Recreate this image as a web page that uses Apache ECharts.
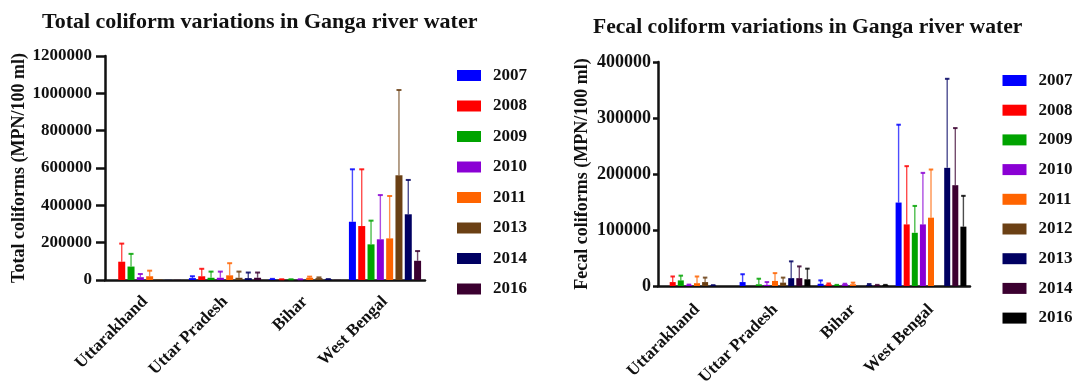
<!DOCTYPE html>
<html><head><meta charset="utf-8">
<script src="https://cdn.jsdelivr.net/npm/echarts@6/dist/echarts.min.js"></script>
<style>
html,body{margin:0;padding:0;background:#fff;}
#c1{position:absolute;left:0;top:0;width:540px;height:388px;}
#c2{position:absolute;left:540px;top:0;width:533px;height:388px;}
</style>
</head><body><div id="c1"></div><div id="c2"></div>
<script>
// ---------- DATA ----------
const categories = ['Uttarakhand', 'Uttar Pradesh', 'Bihar', 'West Bengal'];

// Total coliform (mean and upper SD), MPN/100 ml
const totalYears = ['2007', '2008', '2009', '2010', '2011', '2013', '2014', '2016'];
const tc2007 = [0, 10000, 4000, 312000];
const tc2007Sd = [0, 10000, 2000, 281000];
const tc2008 = [98000, 20000, 3000, 289000];
const tc2008Sd = [97000, 40000, 1000, 304000];
const tc2009 = [72000, 12000, 3000, 191000];
const tc2009Sd = [68000, 33000, 1000, 127000];
const tc2010 = [15000, 12000, 3000, 218000];
const tc2010Sd = [17000, 33000, 1000, 237000];
const tc2011 = [20000, 25000, 12000, 223000];
const tc2011Sd = [30000, 65000, 6000, 227000];
const tc2013 = [3000, 12000, 10000, 561000];
const tc2013Sd = [0, 33000, 4000, 457000];
const tc2014 = [1000, 10000, 4000, 352000];
const tc2014Sd = [0, 30000, 1000, 184000];
const tc2016 = [1000, 12000, 1000, 103000];
const tc2016Sd = [0, 28000, 0, 52000];
const totalTicks = [0, 200000, 400000, 600000, 800000, 1000000, 1200000];

// Fecal coliform (mean and upper SD), MPN/100 ml
const fecalYears = ['2007', '2008', '2009', '2010', '2011', '2012', '2013', '2014', '2016'];
const fc2007 = [0, 7000, 4000, 149000];
const fc2007Sd = [0, 14000, 6000, 139000];
const fc2008 = [7000, 0, 3000, 110000];
const fc2008Sd = [10000, 0, 1500, 104000];
const fc2009 = [10000, 3000, 1500, 95000];
const fc2009Sd = [8500, 10000, 500, 48000];
const fc2010 = [2000, 2000, 3000, 110000];
const fc2010Sd = [500, 5000, 1000, 92000];
const fc2011 = [5000, 9000, 3000, 122000];
const fc2011Sd = [12000, 14000, 3000, 86000];
const fc2012 = [7000, 6000, 0, 0];
const fc2012Sd = [8000, 9000, 0, 0];
const fc2013 = [1000, 14000, 2000, 211000];
const fc2013Sd = [500, 30000, 1500, 159000];
const fc2014 = [0, 14000, 1500, 180000];
const fc2014Sd = [0, 21000, 500, 102000];
const fc2016 = [0, 12000, 1500, 106000];
const fc2016Sd = [0, 19000, 500, 55000];
const fecalTicks = [0, 100000, 200000, 300000, 400000];

// ---------- STYLE ----------
const totalColors = ['#0000FF', '#FF0000', '#00A300', '#8A00D4', '#FF6400', '#6B4014', '#000062', '#3B0030'];
const fecalColors = ['#0000FF', '#FF0000', '#00A300', '#8A00D4', '#FF6400', '#6B4014', '#000062', '#3B0030', '#000000'];
const FONT = 'Liberation Serif';
const INK = '#111';

function errSeries(name, means, sds, idx, n, w, gapRatio, color, capW) {
  const g = w * gapRatio;
  const total = n * w + (n - 1) * g;
  const off = -total / 2 + idx * (w + g) + w / 2;
  return {
    type: 'custom', name: name + '_err', silent: true, z: 3,
    data: means.map((m, i) => [i, m, m + sds[i]]),
    encode: { x: 0, y: [1, 2] },
    renderItem: function (params, api) {
      const ci = api.value(0), m = api.value(1), t = api.value(2);
      if (!(t > m)) return;
      const p0 = api.coord([ci, m]);
      const p1 = api.coord([ci, t]);
      const x = p0[0] + off;
      return {
        type: 'group', children: [
          { type: 'line', shape: { x1: x, y1: p0[1], x2: x, y2: p1[1] }, style: { stroke: color, lineWidth: 1.4, opacity: 0.7 } },
          { type: 'line', shape: { x1: x - capW / 2, y1: p1[1], x2: x + capW / 2, y2: p1[1] }, style: { stroke: color, lineWidth: 2, opacity: 0.85 } }
        ]
      };
    }
  };
}

function buildOption(cfg) {
  const n = cfg.years.length;
  const series = [];
  cfg.years.forEach((y, i) => {
    series.push({
      type: 'bar', name: y, data: cfg.means[i], barWidth: cfg.w, barGap: cfg.gap,
      itemStyle: { color: cfg.colors[i] }, z: 2
    });
  });
  cfg.years.forEach((y, i) => {
    series.push(errSeries(y, cfg.means[i], cfg.sds[i], i, n, cfg.w, parseFloat(cfg.gap) / 100, cfg.colors[i], cfg.capW));
  });
  const maxV = cfg.ticks[cfg.ticks.length - 1];
  return {
    animation: false,
    title: {
      text: cfg.title, left: cfg.titleLeft, top: cfg.titleTop, padding: 0,
      textStyle: { fontFamily: FONT, fontWeight: 'bold', fontSize: cfg.titleSize, color: INK }
    },
    legend: {
      orient: 'vertical', left: cfg.legLeft, top: cfg.legTop, itemWidth: 24, itemHeight: 11, padding: 0,
      itemGap: cfg.legGap, icon: 'rect', data: cfg.years, selectedMode: false,
      textStyle: { fontFamily: FONT, fontWeight: 'bold', fontSize: 17, color: INK, padding: [0, 0, 0, 7], lineHeight: 16 }
    },
    grid: { left: cfg.grid[0], top: cfg.grid[1], width: cfg.grid[2], height: cfg.grid[3], containLabel: false, outerBoundsMode: 'none' },
    xAxis: {
      type: 'category', data: categories,
      axisLine: { lineStyle: { color: INK, width: 2.5 } },
      axisTick: { alignWithLabel: true, length: 7, lineStyle: { color: INK, width: 2.5 } },
      axisLabel: { rotate: 45, interval: 0, margin: cfg.xMargin, fontFamily: FONT, fontWeight: 'bold', fontSize: 17, color: INK },
      splitLine: { show: false }
    },
    yAxis: {
      type: 'value', min: 0, max: maxV, interval: cfg.ticks[1] - cfg.ticks[0],
      name: cfg.yName, nameLocation: 'middle', nameGap: cfg.nameGap, nameRotate: 90, nameMoveOverlap: false,
      nameTextStyle: { fontFamily: FONT, fontWeight: 'bold', fontSize: 18, color: INK },
      axisLine: { show: true, lineStyle: { color: INK, width: 2.5 } },
      axisTick: { show: true, length: cfg.yTick, lineStyle: { color: INK, width: 2.5 } },
      axisLabel: { margin: cfg.yMargin, fontFamily: FONT, fontWeight: 'bold', fontSize: cfg.yLabSize, color: INK,
        formatter: function (v) { return String(v); } },
      splitLine: { show: false }
    },
    series: series
  };
}

const chart1 = echarts.init(document.getElementById('c1'), null, { renderer: 'canvas' });
chart1.setOption(buildOption({
  title: 'Total coliform variations in Ganga river water', titleLeft: 42, titleTop: 11, titleSize: 22,
  years: totalYears, colors: totalColors,
  means: [tc2007, tc2008, tc2009, tc2010, tc2011, tc2013, tc2014, tc2016],
  sds: [tc2007Sd, tc2008Sd, tc2009Sd, tc2010Sd, tc2011Sd, tc2013Sd, tc2014Sd, tc2016Sd],
  ticks: totalTicks, w: 7, gap: '33%', capW: 5,
  grid: [105, 56, 320, 224], yName: 'Total coliforms (MPN/100 ml)', nameGap: 77, yLabSize: 17,
  yTick: 9, yMargin: 13, xMargin: 19,
  legLeft: 457, legTop: 67, legGap: 13.5
}));

const chart2 = echarts.init(document.getElementById('c2'), null, { renderer: 'canvas' });
chart2.setOption(buildOption({
  title: 'Fecal coliform variations in Ganga river water', titleLeft: 53, titleTop: 16, titleSize: 21.6,
  years: fecalYears, colors: fecalColors,
  means: [fc2007, fc2008, fc2009, fc2010, fc2011, fc2012, fc2013, fc2014, fc2016],
  sds: [fc2007Sd, fc2008Sd, fc2009Sd, fc2010Sd, fc2011Sd, fc2012Sd, fc2013Sd, fc2014Sd, fc2016Sd],
  ticks: fecalTicks, w: 6, gap: '35%', capW: 4.5,
  grid: [118, 62, 312, 224], yName: 'Fecal coliforms (MPN/100 ml)', nameGap: 67, yLabSize: 18,
  yTick: 5, yMargin: 7, xMargin: 21,
  legLeft: 462.5, legTop: 72, legGap: 12.7
}));
</script>
</body></html>
